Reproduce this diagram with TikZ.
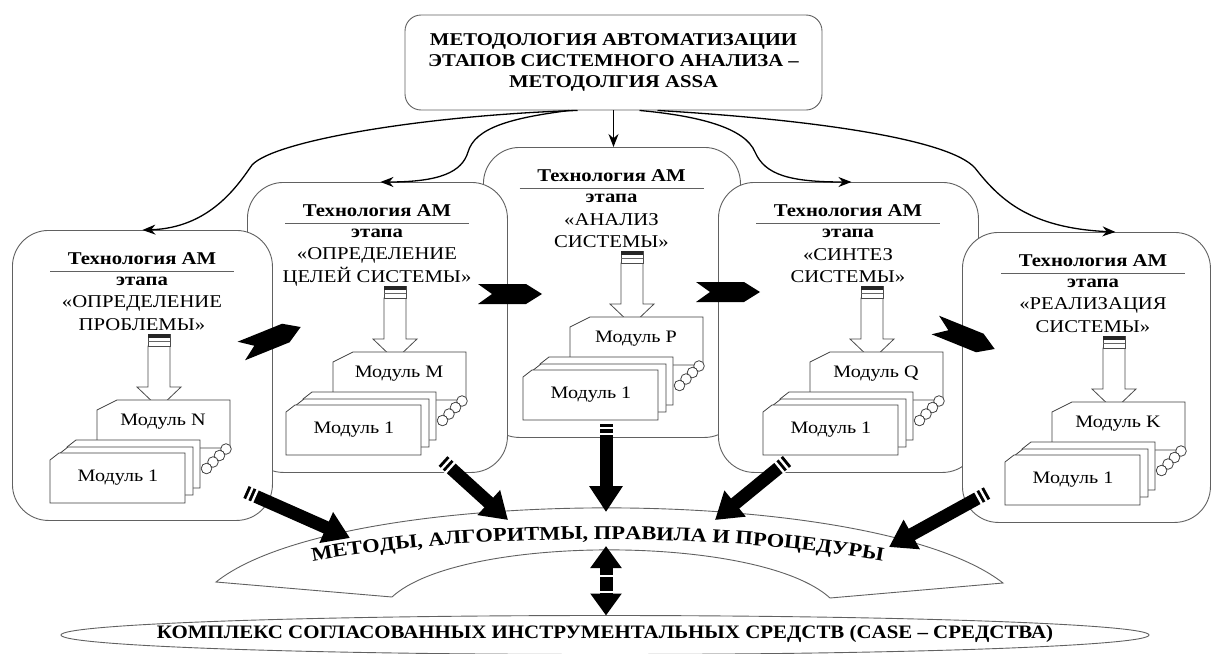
\documentclass[tikz,border=0pt]{standalone}
\usepackage{fontspec}
\setmainfont{Liberation Serif}[FakeStretch=1.15]
\newfontfamily\narrowserif{Liberation Serif}[FakeStretch=1.1]
\usetikzlibrary{calc,shapes.geometric,arrows.meta,decorations.text}

\tikzset{
  edge/.style={draw=black!62, line width=0.9pt},
  stagebox/.style={edge, fill=white, rounded corners=36pt, inner sep=0pt},
  topbox/.style={edge, fill=white, rounded corners=16pt, minimum width=417pt,
    minimum height=95pt, inner sep=0pt, align=center,
    font=\bfseries\fontsize{18}{21}\selectfont},
  headtxt/.style={inner sep=0pt, font=\bfseries\fontsize{18}{20}\selectfont},
  nametxt/.style={inner sep=0pt, font=\fontsize{18}{20}\selectfont},
  modtxt/.style={inner sep=0pt, font=\fontsize{17.5}{20}\selectfont},
  card/.style={draw=black!75, line width=0.8pt, fill=white},
  hollow/.style={draw=black!70, line width=0.8pt, fill=white},
  conn/.style={line width=1.3pt, -{Stealth[length=13pt,width=10pt]}},
  fat/.style={line width=13pt, -{Triangle[length=26pt,width=32pt]}},
  fatboth/.style={line width=13pt,
    {Triangle[length=22pt,width=30pt]}-{Triangle[length=22pt,width=30pt]}},
  pics/chev/.style={code={
    \fill (-32,-10) -- (16,-10) -- (32,0) -- (16,10) -- (-32,10) -- (-18,0) -- cycle;}},
}

% small module card with a cut top-left corner: left, top, right, bottom
\newcommand\modcard[4]{%
  \draw[card] (#1,#2+7) -- (#1+9,#2) -- (#3,#2) -- (#3,#4) -- (#1,#4) -- cycle;}

% one stage: name, left x, top y, width, text centre x, arrow x,
% two lines of the stage title, letter of the last module
\newcommand\drawstage[9]{%
  \node[stagebox, minimum width=#4pt, minimum height=290pt, anchor=north west]
    (#1) at (#2,#3) {};
  \node[headtxt] (#1-h) at (#5,#3+29) {Технология АМ};
  \draw[edge] (#5-92,#3+41) -- (#5+92,#3+41);
  \node[headtxt] (#1-e) at (#5,#3+51) {этапа};
  \node[nametxt] (#1-n1) at (#5,#3+73) {#7};
  \node[nametxt] (#1-n2) at (#5,#3+95) {#8};
  % hollow arrow with a striped cap
  \draw[hollow] (#6-11,#3+116) -- (#6-11,#3+157) -- (#6-22,#3+157) -- (#6,#3+178)
    -- (#6+22,#3+157) -- (#6+11,#3+157) -- (#6+11,#3+116) -- cycle;
  \draw[hollow] (#6-11,#3+104) rectangle (#6+11,#3+116);
  \fill[black!85] (#6-11,#3+104) rectangle (#6+11,#3+108);
  \draw[black!60, line width=0.8pt] (#6-11,#3+111.5) -- (#6+11,#3+111.5);
  % last module of the stage
  \draw[card] (#6-62,#3+180) -- (#6-42,#3+170) -- (#6+71,#3+170) -- (#6+71,#3+218)
    -- (#6-62,#3+218) -- cycle;
  \node[modtxt] (#1-mk) at (#6+4,#3+192) {Модуль #9};
  \foreach \k in {0,1,2,3}{
    \draw[card] (#6+67-6.5*\k,#3+219+6.5*\k) circle (5.3pt);}
  % stack of the first modules
  \modcard{#6-92}{#3+210}{#6+41}{#3+258}
  \modcard{#6-100}{#3+217}{#6+34}{#3+265}
  \modcard{#6-109}{#3+223}{#6+26}{#3+273}
  \node[modtxt] (#1-m1) at (#6-41,#3+248) {Модуль 1};
}

% thick black arrow with a striped tail
\newcommand\fatarrow[2]{%
  \draw[fat] (#1) -- (#2);
  \foreach \d in {4.2pt,9.7pt}{
    \draw[white, line width=2.4pt] ($(#1)!\d!(#2)!9pt!90:(#2)$)
      -- ($(#1)!\d!(#2)!9pt!-90:(#2)$);}
}

\begin{document}
\begin{tikzpicture}[x=1pt, y=-1pt]
  \fill[white] (0,0) rectangle (1214,653);
  \useasboundingbox (0,0) rectangle (1214,653);

  % methodology box
  \node[topbox] (top) at (613.5,62.5)
    {МЕТОДОЛОГИЯ АВТОМАТИЗАЦИИ\\ЭТАПОВ СИСТЕМНОГО АНАЛИЗА –\\МЕТОДОЛГИЯ ASSA};

  % stages, back to front
  \drawstage{b3}{483}{147}{257}{611.5}{632}{«АНАЛИЗ}{СИСТЕМЫ»}{P}
  \drawstage{b2}{247}{182}{260}{377}{395}{«ОПРЕДЕЛЕНИЕ}{ЦЕЛЕЙ СИСТЕМЫ»}{M}
  \drawstage{b4}{718}{182}{260}{848}{872}{«СИНТЕЗ}{СИСТЕМЫ»}{Q}
  \drawstage{b1}{12}{230}{260}{142}{159}{«ОПРЕДЕЛЕНИЕ}{ПРОБЛЕМЫ»}{N}
  \drawstage{b5}{962}{232}{248}{1093}{1114}{«РЕАЛИЗАЦИЯ}{СИСТЕМЫ»}{K}

  % transitions between stages
  \pic[rotate=22] at (271,339) {chev};
  \pic at (510,294) {chev};
  \pic at (728,292) {chev};
  \pic[rotate=-22] at (965,337) {chev};

  % arch of methods
  \draw[edge, fill=white] (216,582) .. controls (340,483) and (875,483) .. (1003,583)
    -- (830,598) .. controls (760,534) and (460,534) .. (392,597) -- cycle;

  % thick arrows into the arch
  \coordinate (a1s) at (246,492); \coordinate (a1e) at (350,538);
  \coordinate (a2s) at (443,461); \coordinate (a2e) at (508,520);
  \coordinate (a3s) at (606,424); \coordinate (a3e) at (606,512);
  \coordinate (a4s) at (787,461); \coordinate (a4e) at (715,520);
  \coordinate (a5s) at (987,493); \coordinate (a5e) at (889,547);
  \fatarrow{a1s}{a1e}
  \fatarrow{a2s}{a2e}
  \fatarrow{a3s}{a3e}
  \fatarrow{a4s}{a4e}
  \fatarrow{a5s}{a5e}

  % tool complex: an ellipse with its caption
  \draw[edge, fill=white] (605,635) ellipse [x radius=544, y radius=19.5];
  \coordinate (casetop) at (606,615.5);
  \node[inner sep=0pt, font=\narrowserif\bfseries\fontsize{19}{19}\selectfont]
    (case) at (605,634)
    {КОМПЛЕКС СОГЛАСОВАННЫХ ИНСТРУМЕНТАЛЬНЫХ СРЕДСТВ (CASE – СРЕДСТВА)};

  % two-way link between the arch and the tools
  \coordinate (dd) at (606,546);
  \draw[fatboth] (dd) -- (casetop);
  \foreach \d in {30pt,46pt}{
    \draw[white, line width=2.4pt] ($(dd)!\d!(casetop)!9pt!90:(casetop)$)
      -- ($(dd)!\d!(casetop)!9pt!-90:(casetop)$);}

  % text along the arch
  \path[decorate, decoration={text along path, text align=center,
    text={|\bfseries\fontsize{19.5}{19.5}\selectfont|МЕТОДЫ, АЛГОРИТМЫ, ПРАВИЛА И ПРОЦЕДУРЫ}}]
    (280,568) .. controls (440,530) and (755,530) .. (915,568);

  % links from the methodology to the stages
  \coordinate (s1) at ($(top.south)+(-36,0)$);
  \coordinate (s2) at ($(top.south)+(-44,0)$);
  \coordinate (s4) at ($(top.south)+(26,0)$);
  \coordinate (s5) at ($(top.south)+(44,0)$);
  \draw[conn] (s1) .. controls (430,115) and (275,140) .. (252,165)
    .. controls (238,185) and (210,228) .. (b1.north);
  \draw[conn] (s2) .. controls (510,118) and (475,128) .. (468,152)
    .. controls (462,172) and (440,182) .. ([xshift=3pt]b2.north);
  \draw[conn] (top.south) -- (top.south |- b3.north);
  \draw[conn] (s4) .. controls (700,116) and (745,128) .. (755,152)
    .. controls (765,175) and (790,182) .. ([xshift=3pt]b4.north);
  \draw[conn] (s5) .. controls (820,120) and (950,140) .. (975,168)
    .. controls (1000,200) and (1030,228) .. ([xshift=29pt]b5.north);
\end{tikzpicture}
\end{document}
